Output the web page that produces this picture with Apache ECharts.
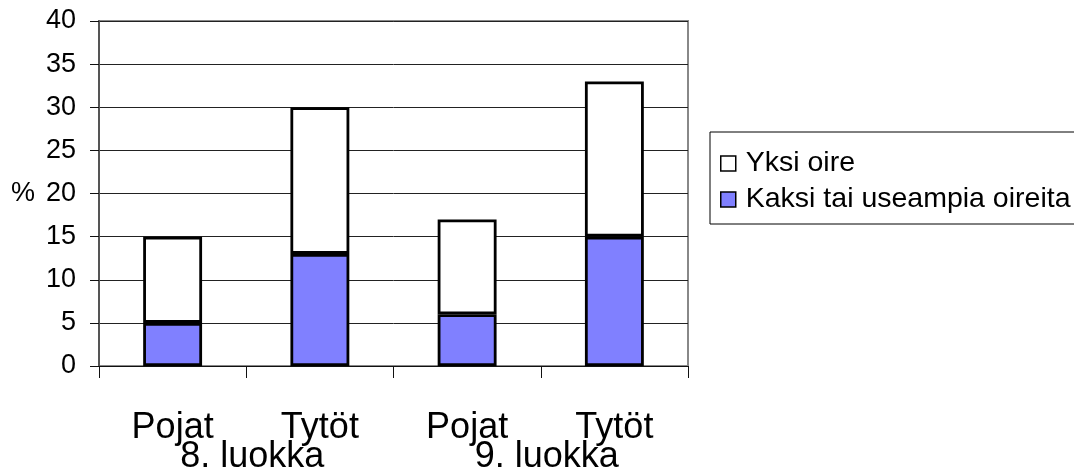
<!DOCTYPE html>
<html>
<head>
<meta charset="utf-8">
<script src="https://cdn.jsdelivr.net/npm/echarts@6/dist/echarts.min.js"></script>
<style>
html,body{margin:0;padding:0;background:#fff;}
#chart{width:1074px;height:469px;}
</style>
</head>
<body>
<div id="chart"></div>
<script>
var categories = ['Pojat', 'Tytöt', 'Pojat', 'Tytöt'];
var groups = ['8. luokka', '9. luokka'];
var seriesNames = ['Yksi oire', 'Kaksi tai useampia oireita'];
var kaksiValues = [5, 13, 6, 15];
var yksiValues = [10, 17, 11, 18];
var yMin = 0, yMax = 40, yStep = 5;

var FONT = '"Liberation Sans", Arial, sans-serif';
var chart = echarts.init(document.getElementById('chart'), null, {renderer: 'canvas'});
chart.setOption({
  animation: false,
  backgroundColor: '#fff',
  textStyle: {fontFamily: FONT, color: '#000'},
  grid: {
    left: 99, right: 386, top: 21, bottom: 103,
    containLabel: false,
    outerBoundsMode: 'none',
    show: true, borderColor: '#888', borderWidth: 2, backgroundColor: 'transparent'
  },
  legend: {
    orient: 'vertical',
    left: 710, top: 132,
    width: 420,
    padding: [17, 60, 10, 10],
    itemGap: 7,
    itemWidth: 15, itemHeight: 15,
    icon: 'rect',
    borderColor: '#000', borderWidth: 1,
    data: [seriesNames[0], seriesNames[1]],
    textStyle: {fontFamily: FONT, fontSize: 28.5, lineHeight: 27, color: '#000', padding: [0, 0, 0, 5]},
    itemStyle: {borderColor: '#000', borderWidth: 1.5}
  },
  xAxis: [{
    type: 'category',
    data: categories,
    position: 'bottom',
    axisLine: {show: true, lineStyle: {color: '#111', width: 1}},
    axisTick: {show: true, alignWithLabel: false, inside: false, length: 12, lineStyle: {color: '#111', width: 1}},
    axisLabel: {fontFamily: FONT, fontSize: 36, color: '#000', margin: 44, lineHeight: 36},
    splitLine: {show: false}
  }, {
    type: 'category',
    data: groups,
    position: 'bottom',
    offset: 0,
    axisLine: {show: false},
    axisTick: {show: false},
    axisLabel: {fontFamily: FONT, fontSize: 36, color: '#000', margin: 73, lineHeight: 36, padding: [0, 0, 0, 12]},
    splitLine: {show: false}
  }],
  yAxis: {
    type: 'value',
    min: yMin, max: yMax, interval: yStep,
    name: '%',
    nameLocation: 'middle',
    nameRotate: 0,
    nameGap: 64,
    nameTextStyle: {fontFamily: FONT, fontSize: 27, color: '#000'},
    axisLine: {show: true, lineStyle: {color: '#555', width: 2}},
    axisTick: {show: true, inside: false, length: 9, lineStyle: {color: '#111', width: 1}},
    axisLabel: {fontFamily: FONT, fontSize: 27, color: '#000', margin: 23},
    splitLine: {show: true, lineStyle: {color: '#222', width: 1}}
  },
  series: [{
    name: seriesNames[1],
    type: 'bar',
    stack: 'total',
    xAxisIndex: 0,
    barWidth: '40%',
    data: kaksiValues,
    itemStyle: {color: '#8080FF', borderColor: '#000', borderWidth: 2.8}
  }, {
    name: seriesNames[0],
    type: 'bar',
    stack: 'total',
    xAxisIndex: 0,
    barWidth: '40%',
    data: yksiValues,
    itemStyle: {color: '#FFFFFF', borderColor: '#000', borderWidth: 2.8}
  }]
});
</script>
</body>
</html>
